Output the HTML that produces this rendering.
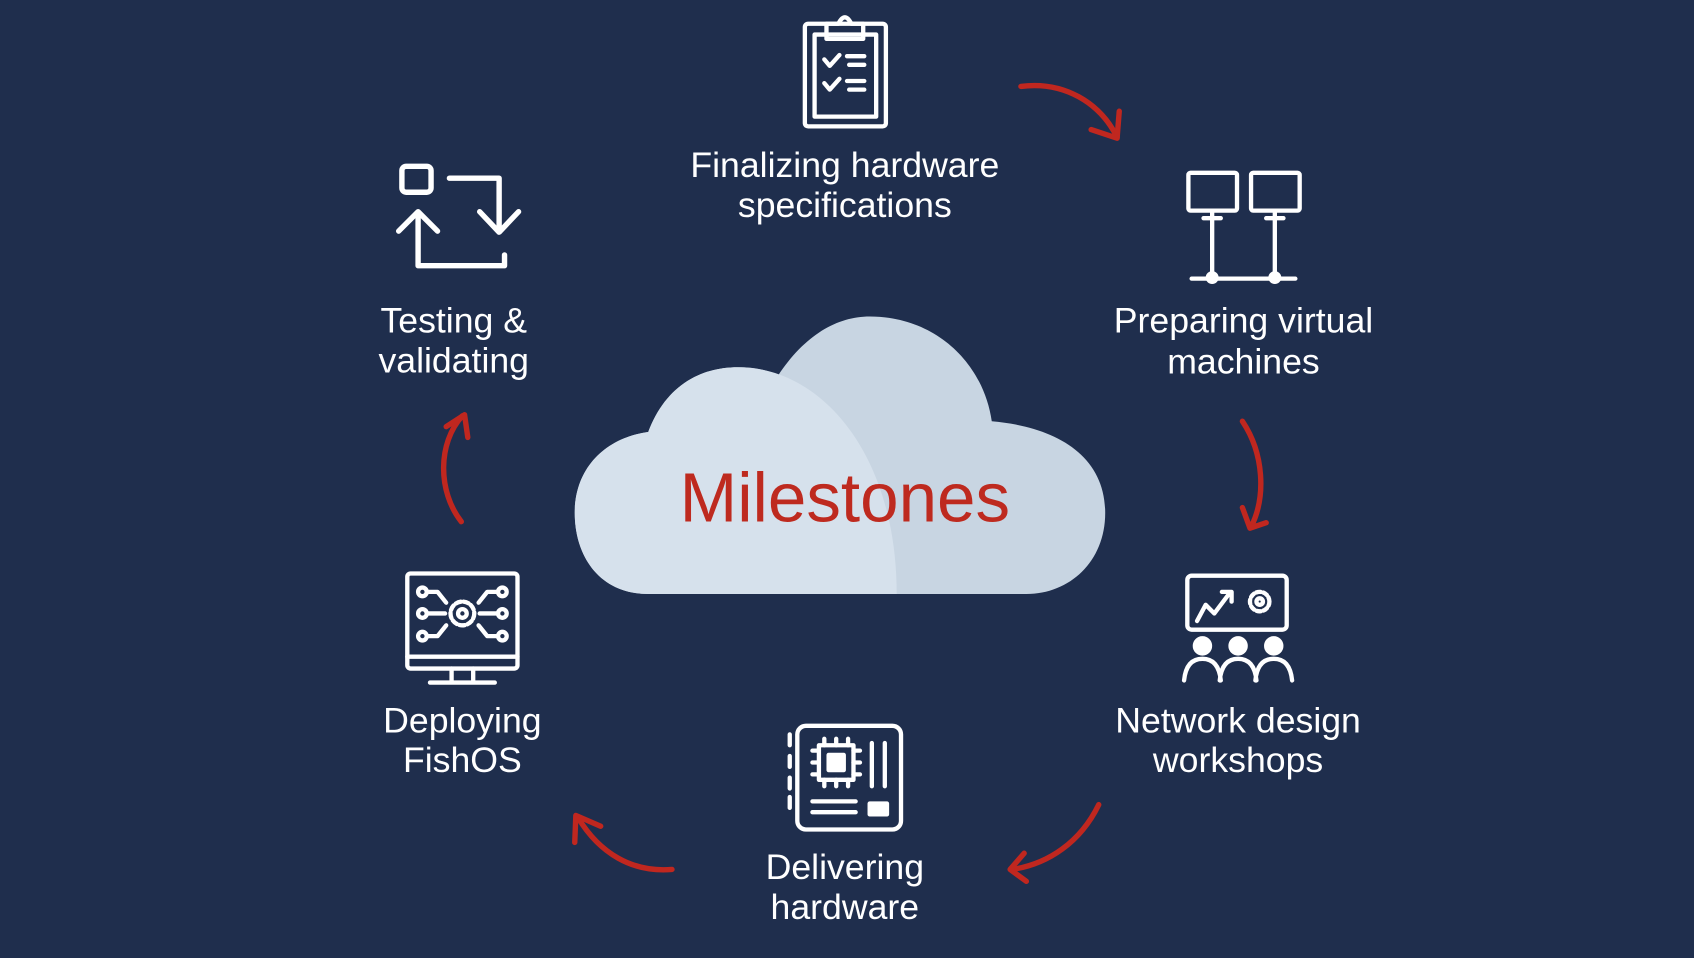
<!DOCTYPE html>
<html><head><meta charset="utf-8"><style>
html,body{margin:0;padding:0;background:#1f2e4d;}
svg{display:block}
text{font-family:"Liberation Sans",sans-serif;fill:#fff;}
</style></head><body>
<svg width="1694" height="958" viewBox="0 0 1568 887" preserveAspectRatio="none" xmlns="http://www.w3.org/2000/svg">
<rect width="1568" height="887" fill="#1f2e4d"/>
<path d="M600 550 C555 550 532 515 532 475 C532 432 562 405 600 400 C615 360 645 340 683 340 C700 340 712 343 720 348 C745 310 775 293 805 293 C865 293 910 335 918 390 C975 395 1023 420 1023 475 C1023 520 990 550 950 550 Z" fill="#c8d5e2"/>
<path d="M600 550 C555 550 532 515 532 475 C532 432 562 405 600 400 C615 360 645 340 683 340 C760 340 830 420 830 550 Z" fill="#d6e1ec"/>
<text x="782" y="483" text-anchor="middle" font-size="64" style="fill:#be2a1f">Milestones</text>
<g fill="none" stroke="#c0271f" stroke-width="5" stroke-linecap="round" stroke-linejoin="round">
<path d="M945 80 C985 75 1018 95 1034 127"/><path d="M1010 120 L1034 128 L1036 103"/>
<path d="M1150 390 C1170 420 1172 460 1158 488"/><path d="M1150 470 L1157 489 L1172 484"/>
<path d="M1017 745 C1000 780 970 800 937 805"/><path d="M948 790 L935 805 L950 816"/>
<path d="M622 805 C585 808 555 790 535 757"/><path d="M532 780 L533 755 L556 765"/>
<path d="M427 483 C405 455 405 410 428 385"/><path d="M413 395 L430 384 L433 405"/>
</g>
<g fill="none" stroke="#fff" stroke-width="4" stroke-linecap="round" stroke-linejoin="round">
<rect x="745" y="22" width="75" height="95" rx="3"/>
<rect x="754" y="32" width="57" height="76"/>
<path d="M765 22 V36 H799 V22 H788 Q782 10 776 22 Z"/>
<path d="M763 55 l5 6 l9 -10 M784 52 h16 M786 60 h14 M763 77 l5 6 l9 -10 M784 75 h16 M786 83 h14"/>
<rect x="1100" y="160" width="45" height="35" rx="2"/><rect x="1158" y="160" width="45" height="35" rx="2"/>
<path d="M1114 202 h16 M1172 202 h16 M1122 195 v60 M1180 195 v60 M1103 258 h96"/>
<circle cx="1122" cy="257" r="4"/><circle cx="1180" cy="257" r="4"/>
<rect x="1099" y="533" width="92" height="50" rx="4"/>
<path d="M1108 575 l8 -15 l8 8 l15 -20 M1131 548 h9 v9"/>
<circle cx="1166" cy="557" r="9" stroke-dasharray="4 2.5"/><circle cx="1166" cy="557" r="3"/>
<circle cx="1113" cy="598" r="7" fill="#fff"/><circle cx="1146" cy="598" r="7" fill="#fff"/><circle cx="1179" cy="598" r="7" fill="#fff"/>
<path d="M1096 630 q2 -20 17 -20 q15 0 17 20 M1129 630 q2 -20 17 -20 q15 0 17 20 M1162 630 q2 -20 17 -20 q15 0 17 20"/>
<rect x="738" y="672" width="96" height="96" rx="8"/>
<path d="M731 680 v10 M731 700 v10 M731 720 v10 M731 738 v10"/>
<rect x="758" y="690" width="32" height="32"/><rect x="767" y="699" width="14" height="14" fill="#fff"/>
<path d="M763 684 v6 M774 684 v6 M785 684 v6 M763 722 v6 M774 722 v6 M785 722 v6 M752 695 h6 M752 706 h6 M752 717 h6 M790 695 h6 M790 706 h6 M790 717 h6"/>
<path d="M807 688 v40 M819 688 v40 M752 742 h40 M752 752 h40"/><rect x="805" y="744" width="16" height="10" fill="#fff"/>
<rect x="377" y="531" width="102" height="88" rx="3"/><path d="M377 608 h102 M418 619 v12 M438 619 v12 M398 632 h60"/>
<circle cx="428" cy="568" r="11" stroke-dasharray="5 2.5"/><circle cx="428" cy="568" r="4"/>
<circle cx="391" cy="548" r="4"/><circle cx="391" cy="568" r="4"/><circle cx="391" cy="589" r="4"/>
<circle cx="465" cy="548" r="4"/><circle cx="465" cy="568" r="4"/><circle cx="465" cy="589" r="4"/>
<path d="M395 548 h10 l8 10 M395 568 h17 M395 589 h10 l8 -10 M461 548 h-10 l-8 10 M461 568 h-17 M461 589 h-10 l-8 -10"/>
<rect x="372" y="154" width="27" height="24" rx="4" stroke-width="5"/>
<path d="M416 165 h46 v48 M444 196 l18 19 l18 -19 M387 200 v46 h80 v-10 M369 214 l18 -18 l18 18" stroke-width="5"/>
</g>
<g font-size="33" text-anchor="middle">
<text x="782" y="164">Finalizing hardware</text><text x="782" y="201">specifications</text>
<text x="1151" y="308">Preparing virtual</text><text x="1151" y="346">machines</text>
<text x="1146" y="678">Network design</text><text x="1146" y="715">workshops</text>
<text x="782" y="814">Delivering</text><text x="782" y="851">hardware</text>
<text x="428" y="678">Deploying</text><text x="428" y="715">FishOS</text>
<text x="420" y="308">Testing &amp;</text><text x="420" y="345">validating</text>
</g>
</svg>
</body></html>
